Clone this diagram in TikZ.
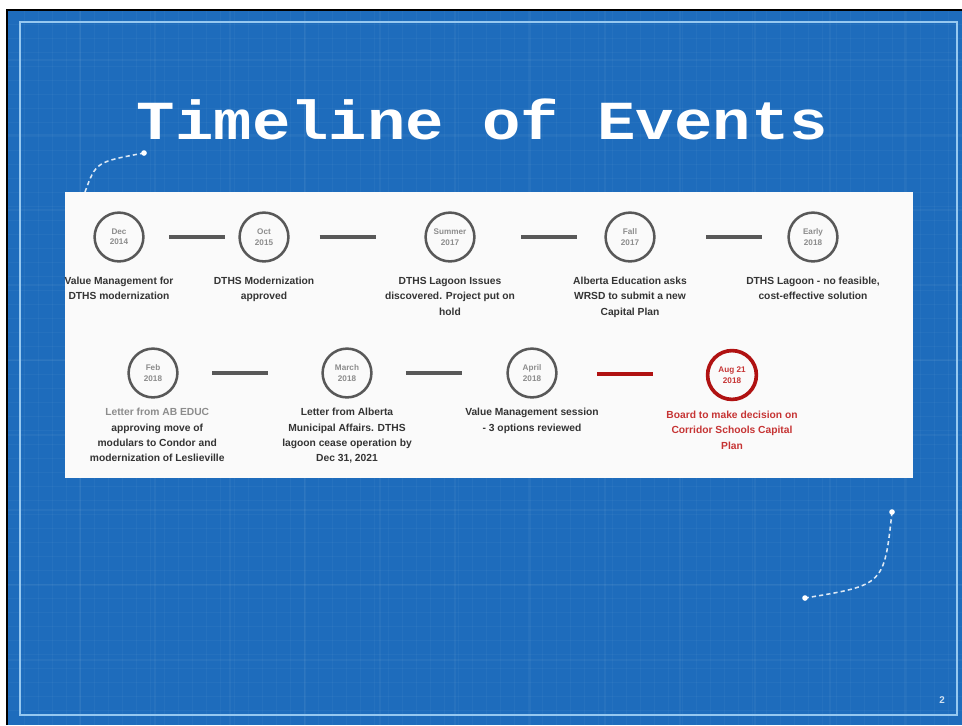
\documentclass[tikz,border=0pt]{standalone}
\usepackage{fontspec}
\setmainfont{Liberation Sans}
\newfontfamily\titlefont{Liberation Mono}
\usetikzlibrary{positioning, calc}

\definecolor{slideblue}{RGB}{30,108,188}
\definecolor{framecol}{RGB}{150,200,240}
\definecolor{ringgray}{RGB}{88,88,88}
\definecolor{notegray}{RGB}{52,52,52}
\definecolor{dategray}{RGB}{140,140,140}
\definecolor{ringred}{RGB}{176,18,18}
\definecolor{notered}{RGB}{198,52,52}

\begin{document}
\begin{tikzpicture}[
    x=0.025cm, y=-0.025cm,
    stop/.style={draw=ringgray, line width=1.8pt, circle, minimum size=1.22cm,
                 inner sep=0pt, align=center, text=dategray,
                 font=\fontsize{5.8}{7.4}\selectfont\bfseries},
    note/.style={align=center, inner sep=0pt, text=notegray,
                 font=\fontsize{7.3}{11}\selectfont\bfseries},
    link/.style={draw=ringgray, line width=2.5pt,
                 to path={($(\tikztostart)!#1!(\tikztotarget)$) ++(-28,0) -- ++(56,0)}},
    link/.default=0.5,
    trail/.style={draw=white!85!slideblue, line width=1.1pt,
                  dash pattern=on 3pt off 2.2pt},
    tip/.style={fill=white, circle, inner sep=0pt, minimum size=4pt}
  ]
  \useasboundingbox (0,0) rectangle (962,725);

  % Blueprint background
  \fill[white] (0,0) rectangle (962,725);
  \fill[slideblue] (8,10) rectangle (962,725);
  \foreach \gx in {24,38,...,956}
    \draw[white, opacity=0.035, line width=0.4pt] (\gx,10) -- (\gx,725);
  \foreach \gy in {24,38,...,720}
    \draw[white, opacity=0.035, line width=0.4pt] (8,\gy) -- (962,\gy);
  \foreach \gx in {80,155,...,956}
    \draw[white, opacity=0.045, line width=0.8pt] (\gx,10) -- (\gx,725);
  \foreach \gy in {60,135,...,720}
    \draw[white, opacity=0.045, line width=0.8pt] (8,\gy) -- (962,\gy);
  \draw[black, line width=1pt] (7,725) -- (7,10) -- (962,10);
  \draw[framecol, line width=1.1pt] (20,22) rectangle (957,715);

  % Heading
  \node[text=white, font=\titlefont\bfseries\fontsize{45.5}{50}\selectfont,
        anchor=base] (head) at (482.5,139) {\scalebox{1}[0.86]{Timeline of Events}};

  % Dotted swoosh arrows
  \coordinate (s1) at (85,192);
  \coordinate (s2) at (144,153);
  \draw[trail] (s1) .. controls (96,162) .. (s2);
  \node[tip] at (s2) {};
  \coordinate (s3) at (892,512);
  \coordinate (s4) at (805,598);
  \draw[trail] (s3) .. controls (884,585) .. (s4);
  \node[tip] at (s3) {};
  \node[tip] at (s4) {};

  % White card
  \fill[white!98!black] (65,192) rectangle (913,478);

  % Top row of milestones
  \foreach \nm/\xx/\dt in {dec/119/{Dec\\2014}, oct/264/{Oct\\2015},
                            summer/450/{Summer\\2017}, fall/630/{Fall\\2017},
                            early/813/{Early\\2018}} {
    \node[stop] (\nm) at (\xx,237) {\dt};
  }
  \draw[link=0.54] (dec) to (oct);
  \draw[link=0.45] (oct) to (summer);
  \draw[link=0.55] (summer) to (fall);
  \draw[link=0.57] (fall) to (early);

  \node[note, below=10pt of dec] {Value Management for\\DTHS modernization};
  \node[note, below=10pt of oct] {DTHS Modernization\\approved};
  \node[note, below=10pt of summer] {DTHS Lagoon Issues\\discovered. Project put on\\hold};
  \node[note, below=10pt of fall] {Alberta Education asks\\WRSD to submit a new\\Capital Plan};
  \node[note, below=10pt of early] {DTHS Lagoon - no feasible,\\cost-effective solution};

  % Bottom row of milestones
  \foreach \nm/\xx/\dt in {feb/153/{Feb\\2018}, march/347/{March\\2018},
                            april/532/{April\\2018}} {
    \node[stop] (\nm) at (\xx,373) {\dt};
  }
  \node[stop, draw=ringred, line width=2.6pt, text=notered] (aug) at (732,375) {Aug 21\\2018};
  \draw[link=0.45] (feb) to (march);
  \draw[link=0.47] (march) to (april);
  \draw[link=0.465, draw=ringred] (april) to (aug);

  \node[note, below=6.5pt of feb, xshift=3pt] {\textcolor{dategray}{Letter from AB EDUC}\\approving move of\\modulars to Condor and\\modernization of Leslieville};
  \node[note, below=6.5pt of march] {Letter from Alberta\\Municipal Affairs. DTHS\\lagoon cease operation by\\Dec 31, 2021};
  \node[note, below=6.5pt of april] {Value Management session\\- 3 options reviewed};
  \node[note, below=6.5pt of aug, text=notered] {Board to make decision on\\Corridor Schools Capital\\Plan};

  % Slide number
  \node[text=white!80!slideblue, font=\fontsize{7}{8}\selectfont\bfseries] (pg) at (942,700) {2};
\end{tikzpicture}
\end{document}
